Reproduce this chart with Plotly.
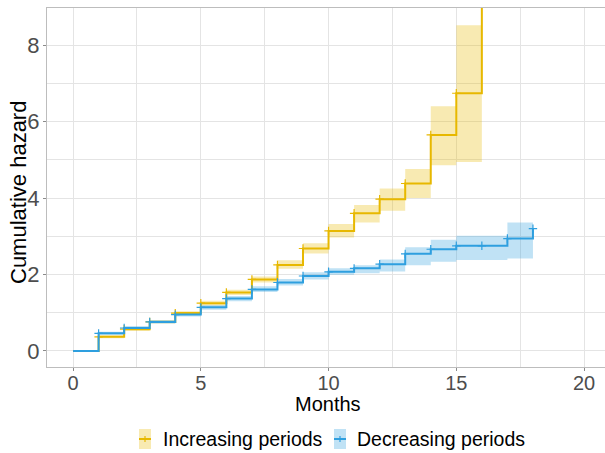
import plotly.graph_objects as go

# ---------------- data ----------------
inc_time = [0, 1, 2, 3, 4, 5, 6, 7, 8, 9, 10, 11, 12, 13, 14, 15, 16]
inc_haz = [0, 0.37, 0.57, 0.76, 0.99, 1.25, 1.53, 1.87, 2.25, 2.68, 3.14, 3.60, 3.97, 4.38, 5.65, 6.74, 12.0]
inc_low = [0, 0.33, 0.53, 0.72, 0.94, 1.19, 1.46, 1.79, 2.15, 2.55, 2.97, 3.36, 3.67, 4.00, 4.86, 4.94]
inc_up = [0, 0.41, 0.62, 0.81, 1.04, 1.31, 1.60, 1.95, 2.37, 2.82, 3.32, 3.82, 4.25, 4.76, 6.40, 8.52]
inc_cens_time = [1, 2, 3, 4, 5, 6, 7, 8, 9, 10, 11, 12, 13, 14, 15]

dec_time = [0, 1, 2, 3, 4, 5, 6, 7, 8, 9, 10, 11, 12, 13, 14, 15, 16, 17, 18]
dec_haz = [0, 0.46, 0.60, 0.76, 0.95, 1.14, 1.37, 1.61, 1.79, 1.96, 2.07, 2.16, 2.27, 2.54, 2.66, 2.75, 2.75, 2.94, 3.20]
dec_low = [0, 0.42, 0.56, 0.72, 0.90, 1.08, 1.30, 1.54, 1.71, 1.87, 1.99, 2.03, 2.08, 2.24, 2.33, 2.38, 2.38, 2.42]
dec_up = [0, 0.50, 0.65, 0.81, 1.00, 1.20, 1.44, 1.69, 1.88, 2.06, 2.16, 2.24, 2.39, 2.71, 2.91, 3.01, 3.01, 3.36]
dec_cens_time = [1, 2, 3, 4, 5, 6, 7, 8, 9, 10, 11, 12, 13, 14, 15, 16, 17, 18]

x_ticks = [0, 5, 10, 15, 20]
y_ticks = [0, 2, 4, 6, 8]
labels = ["Increasing periods", "Decreasing periods"]

# ---------------- styles ----------------
YEL = "#E7B800"
BLU = "#2E9FDF"
YEL_F = "rgba(231,184,0,0.30)"
BLU_F = "rgba(46,159,223,0.30)"
W, H = 605, 453
ML, MR, MT, MB = 47, 0, 8, 86
PW, PH = W - ML - MR, H - MT - MB


def px(x):
    return (x - ML) / PW


def py(y):
    return (H - MB - y) / PH


fig = go.Figure()


def add_band(times, low, up, fill_col):
    # band (step shaped), last step closes at the next time
    bt = times[:len(low)] + [times[len(low)]]
    bl = low + [low[-1]]
    bu = up + [up[-1]]
    fig.add_trace(go.Scatter(x=bt, y=bl, mode="lines", line=dict(width=0, shape="hv"),
                             showlegend=False, hoverinfo="skip"))
    fig.add_trace(go.Scatter(x=bt, y=bu, mode="lines", line=dict(width=0, shape="hv"),
                             fill="tonexty", fillcolor=fill_col, showlegend=False, hoverinfo="skip"))


def add_line(times, haz, cens, line_col, name):
    fig.add_trace(go.Scatter(x=times, y=haz, mode="lines", line=dict(color=line_col, width=2, shape="hv"),
                             name=name, showlegend=False))
    cy = [haz[times.index(t)] for t in cens]
    fig.add_trace(go.Scatter(x=cens, y=cy, mode="markers",
                             marker=dict(symbol="cross-thin", size=6, line=dict(color=line_col, width=1.2)),
                             showlegend=False, hoverinfo="skip"))


add_band(inc_time, inc_low, inc_up, YEL_F)
add_band(dec_time, dec_low, dec_up, BLU_F)
add_line(inc_time, inc_haz, inc_cens_time, YEL, labels[0])
add_line(dec_time, dec_haz, dec_cens_time, BLU, labels[1])

GRID = "#E4E4E4"
AX = "#BDBDBD"
fig.update_layout(
    width=W, height=H,
    margin=dict(l=ML, r=MR, t=MT, b=MB, autoexpand=False),
    plot_bgcolor="white", paper_bgcolor="white",
    font=dict(family="Liberation Sans, Arial, sans-serif"),
    showlegend=False,
    xaxis=dict(range=[-1.02, 20.82], tickvals=x_ticks, showgrid=True, gridcolor=GRID, gridwidth=1,
               minor=dict(dtick=2.5, tick0=0, showgrid=True, gridcolor=GRID, gridwidth=1, ticklen=0),
               zeroline=False, showline=True, linecolor=AX, linewidth=1, mirror=True,
               ticks="outside", ticklen=3, tickcolor="#8A8A8A", tickwidth=1,
               ticklabelstandoff=-5,
               tickfont=dict(size=20, color="#4D4D4D")),
    yaxis=dict(range=[-0.42, 8.97], tickvals=y_ticks, showgrid=True, gridcolor=GRID, gridwidth=1,
               minor=dict(dtick=1, tick0=0, showgrid=True, gridcolor=GRID, gridwidth=1, ticklen=0),
               zeroline=False, showline=True, linecolor=AX, linewidth=1, mirror=False,
               ticks="outside", ticklen=3, tickcolor="#8A8A8A", tickwidth=1,
               ticklabelstandoff=-1,
               tickfont=dict(size=22, color="#4D4D4D")),
)

# axis titles
fig.add_annotation(text="Months", xref="paper", yref="paper", x=px(328), y=py(404),
                   xanchor="center", yanchor="middle", showarrow=False,
                   font=dict(size=20, color="black"))
fig.add_annotation(text="Cumulative hazard", xref="paper", yref="paper", x=px(18), y=py(193),
                   xanchor="center", yanchor="middle", textangle=-90, showarrow=False,
                   font=dict(size=22, color="black"))

# legend (manual)
for (bx0, tx), col, fcol, lab in [((139, 161), YEL, YEL_F, labels[0]), ((334, 355), BLU, BLU_F, labels[1])]:
    fig.add_shape(type="rect", xref="paper", yref="paper", x0=px(bx0), x1=px(bx0 + 12),
                  y0=py(449), y1=py(429), fillcolor=fcol, line=dict(width=0))
    fig.add_shape(type="line", xref="paper", yref="paper", x0=px(bx0), x1=px(bx0 + 12),
                  y0=py(439), y1=py(439), line=dict(color=col, width=2))
    fig.add_shape(type="line", xref="paper", yref="paper", x0=px(bx0 + 6), x1=px(bx0 + 6),
                  y0=py(436), y1=py(442), line=dict(color=col, width=1.2))
    fig.add_annotation(text=lab, xref="paper", yref="paper", x=px(tx), y=py(439),
                       xanchor="left", yanchor="middle", showarrow=False,
                       font=dict(size=19.5, color="black"))

fig.write_html("out.html")
